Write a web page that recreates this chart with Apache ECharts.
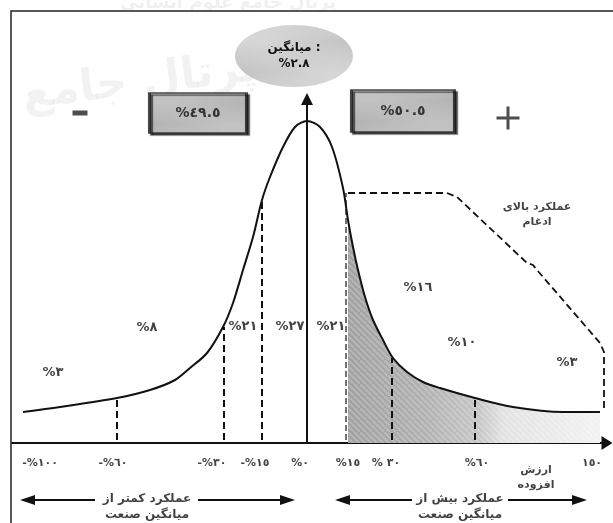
<!DOCTYPE html>
<html><head><meta charset="utf-8">
<script src="https://cdn.jsdelivr.net/npm/echarts@6/dist/echarts.min.js"></script>
<style>html,body{margin:0;padding:0;background:#fff}#c{width:613px;height:523px}</style>
</head><body><div id="c"></div>
<script>
// ---- data (axis units: x = position along axis, y = height above axis) ----
const curveX = [11,48,105,138,163,178,195,211,221,231,241,250,258,271,283,295,308,320,331,336,341,346,353,361,371,381,395,411,428,463,501,551,588];
const curveY = [31,36,45,53,63,75,90,116,140,173,206,243,266,296,316,322,316,296,255,223,196,173,146,123,103,85,71,61,55,45,36,31,31];
const shadeStart = [336, 223];
const dropX = [105,212,250,380,463];
const dropTop = [45,116,243,85,46];
const edgeDrop = [334, 250];
const mergerX = [336,435,445,515,521,525,588,592,592];
const mergerY = [250,250,246,180,178,173,100,91,33];
const regionLabels = ['%٣','%٨','%٢١','%٢٧','%٢١','%١٦','%١٠','%٣'];
const regionX = [41,135,231,278,319,406,450,555];
const regionY = [70,115,116,116,116,155,100,80];
const tickLabels = ['-%١٠٠','-%٦٠','-%٣٠','-%١٥','%٠','%١٥','% ٣٠','%٦٠','١٥٠'];
const tickX = [28,101,200,243,288,336,374,465,580];
const tickY = -20;
const meanLabel = 'میانگین :\n%٢.٨';
const meanPos = [282, 387];
const shareLabels = ['%٤٩.٥','%٥٠.٥'];
const shareX = [186, 391];
const shareY = [330, 332];
const mergerLabel = 'عملکرد بالای\nادغام';
const mergerLabelPos = [525, 228];
const valueAddedLabel = 'ارزش\nافزوده';
const valueAddedPos = [524, -35];
const bottomLabels = ['عملکرد کمتر از\nمیانگین صنعت','عملکرد بیش از\nمیانگین صنعت'];
const bottomX = [135, 448];
const bottomY = -64;
const bottomArrows = [[83,15.5],[186,275.5],[400,330.5],[496,567.5]];
const bottomArrowY = -57;
const meanAxisX = 295, meanAxisTop = 344;
const minusPos = [68,330], plusPos = [496,325];

const FONT = 'DejaVu Sans';
function pattern(base, stripe, size, lw) {
  const c = document.createElement('canvas'); c.width = c.height = size;
  const g = c.getContext('2d');
  if (base) { g.fillStyle = base; g.fillRect(0,0,size,size); }
  g.strokeStyle = stripe; g.lineWidth = lw;
  for (let k = -size; k <= 2*size; k += size/2) { g.beginPath(); g.moveTo(k,0); g.lineTo(k+size,size); g.stroke(); }
  return {image: c, repeat: 'repeat'};
}
const boxPat = pattern('#c3c3c3', '#dadada', 18, 4);
const ellPat = pattern('#bdbdbd', '#d6d6d6', 18, 4);
const shadePat = pattern(null, 'rgba(255,255,255,0.22)', 12, 2.5);

const curve = curveX.map((x,i)=>[x,curveY[i]]);
const shade = [shadeStart].concat(curve.filter(p=>p[0] > shadeStart[0]));
const merger = mergerX.map((x,i)=>[x,mergerY[i]]);
function txt(vals, xs, ys) {
  return vals.map((t,i)=>({name:t, value:[xs[i], Array.isArray(ys)?ys[i]:ys]}));
}
const lblStyle = (size, lh) => ({show:true, position:'inside', formatter:'{b}', color:'#111',
  fontFamily: FONT, fontWeight:'bold', fontSize:size, lineHeight:lh||size+3});

const chart = echarts.init(document.getElementById('c'), null, {renderer:'canvas'});
chart.setOption({
  animation:false,
  backgroundColor:'#fff',
  grid:{left:12, right:6, top:10, bottom:0},
  xAxis:{type:'value', min:0, max:595, splitLine:{show:false}, axisTick:{show:false}, axisLabel:{show:false},
    axisLine:{show:true, onZero:true, symbol:['none','triangle'], symbolSize:[14,11], lineStyle:{color:'#111', width:2}}},
  yAxis:{type:'value', min:-80, max:433, show:false},
  graphic:[
    {type:'polyline', shape:{points:[[11,523],[11,11],[613,11]]}, style:{stroke:'#222', lineWidth:1.5, fill:null}, z:1},
    {type:'text', x:20, y:75, rotation:0.12, style:{text:'پرتال جامع', font:'bold 44px DejaVu Sans', fill:'rgba(0,0,0,0.05)'}, z:0},
    {type:'text', x:120, y:-6, style:{text:'پرتال جامع علوم انسانی', font:'bold 18px DejaVu Sans', fill:'rgba(0,0,0,0.06)'}, z:0}
  ],
  series:[
    {type:'line', data:shade, smooth:0.3, symbol:'none', lineStyle:{width:0},
      areaStyle:{opacity:1, color:new echarts.graphic.LinearGradient(0,0,1,0,[
        {offset:0,color:'#9e9e9e'},{offset:0.3,color:'#aeaeae'},{offset:0.52,color:'#c4c4c4'},
        {offset:0.62,color:'#e2e2e2'},{offset:1,color:'#f2f2f2'}])}, z:2},
    {type:'line', data:shade, smooth:0.3, symbol:'none', lineStyle:{width:0},
      areaStyle:{opacity:1, color:shadePat}, z:2},
    {type:'line', data:curve, smooth:0.3, symbol:'none', lineStyle:{color:'#111', width:2}, z:5,
      markLine:{silent:true, symbol:['none','none'], label:{show:false},
        lineStyle:{color:'#111', width:2, type:[7,4]},
        data: dropX.map((x,i)=>[{coord:[x,3]},{coord:[x,dropTop[i]]}]).concat([
          [{coord:[edgeDrop[0],3], lineStyle:{color:'#444', width:1.5, type:[6,3]}},{coord:[edgeDrop[0],edgeDrop[1]]}]])}},
    {type:'line', data:merger, symbol:'none', lineStyle:{color:'#111', width:1.8, type:[7,4]}, z:4,
      markLine:{silent:true, symbol:['none','triangle'], symbolSize:[12,12], label:{show:false},
        lineStyle:{color:'#111', width:2, type:'solid'},
        data:[[{coord:[meanAxisX,0]},{coord:[meanAxisX,meanAxisTop]}]].concat(
          bottomArrows.map(a=>[{coord:[a[0],bottomArrowY], symbolSize:[10,15]},{coord:[a[1],bottomArrowY], symbolSize:[10,15]}]))}},
    {type:'scatter', symbol:'circle', symbolSize:[118,62], itemStyle:{color:ellPat, opacity:1}, z:6,
      data:[{name:meanLabel, value:meanPos}], label:lblStyle(12,16)},
    {type:'scatter', symbol:'rect', z:6,
      itemStyle:{color:boxPat, borderColor:'#1a1a1a', borderWidth:2, shadowColor:'rgba(0,0,0,0.75)', shadowOffsetX:2, shadowOffsetY:2, shadowBlur:1},
      data: shareLabels.map((t,i)=>({name:t, value:[shareX[i],shareY[i]], symbolSize: i===0?[97,40]:[103,42]})),
      label:lblStyle(14)},
    {type:'scatter', z:6, data:[{name:'', value:minusPos, symbol:'rect', symbolSize:[15,5]},
      {name:'', value:plusPos, symbol:'path://M0,10h23v3H0z M10,0h3v23h-3z', symbolSize:[23,23]}],
      itemStyle:{color:'#222'}},
    {type:'scatter', symbolSize:1, itemStyle:{color:'rgba(0,0,0,0)'}, z:7,
      data: txt(regionLabels, regionX, regionY), label:lblStyle(13)},
    {type:'scatter', symbolSize:1, itemStyle:{color:'rgba(0,0,0,0)'}, z:7,
      data: txt(tickLabels, tickX, tickY), label:lblStyle(11)},
    {type:'scatter', symbolSize:1, itemStyle:{color:'rgba(0,0,0,0)'}, z:7,
      data: [{name:mergerLabel, value:mergerLabelPos},{name:valueAddedLabel, value:valueAddedPos}], label:lblStyle(11,15)},
    {type:'scatter', symbolSize:1, itemStyle:{color:'rgba(0,0,0,0)'}, z:7,
      data: txt(bottomLabels, bottomX, bottomY), label:lblStyle(12,16)}
  ]
});
</script></body></html>
